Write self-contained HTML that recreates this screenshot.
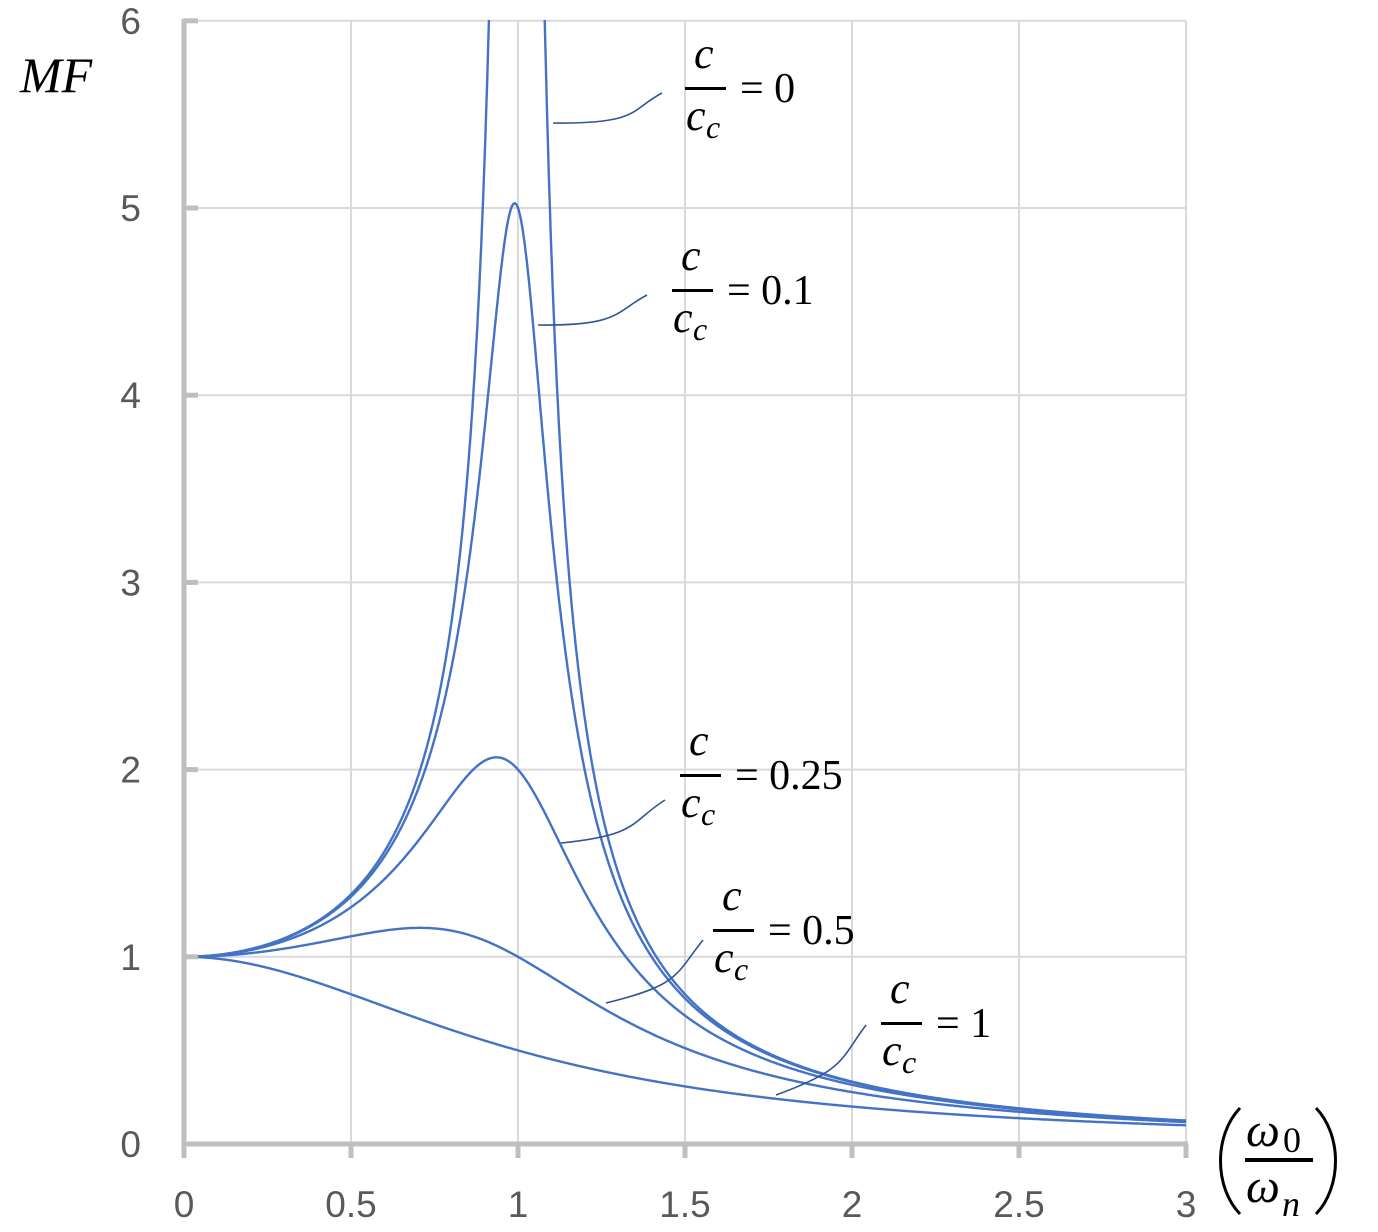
<!DOCTYPE html>
<html><head><meta charset="utf-8"><style>
html,body{margin:0;padding:0;background:#fff;}
svg{display:block}
.t{font-family:"Liberation Sans",sans-serif;fill:#595959}
.m{font-family:"Liberation Serif",serif;fill:#000}
.mi{font-family:"Liberation Serif",serif;font-style:italic;fill:#000}
</style></head><body>
<svg id="s" width="1378" height="1232" viewBox="0 0 1378 1232" xmlns="http://www.w3.org/2000/svg">
<defs><clipPath id="c"><rect x="184" y="20" width="1004" height="1124"/></clipPath></defs>
<g id="grid" stroke="#d9d9d9" stroke-width="2"></g>
<g id="curves" clip-path="url(#c)" fill="none" stroke="#4472c4" stroke-width="2.4"></g>
<g stroke="#bfbfbf" stroke-width="5" fill="none" id="axes"></g>
<g id="labels"></g>
<g fill="none" stroke="#2f5597" stroke-width="1.6">
<path d="M553,123 C640,124 630,110 662,93"/>
<path d="M538,325 C620,326 615,312 647,295"/>
<path d="M561,843 C640,835 630,822 665,800"/>
<path d="M606,1003 C680,985 675,975 703,940"/>
<path d="M776,1095 C845,1070 840,1060 866,1025"/>
</g>
<text class="mi" x="20" y="92" style="font-size:50px">MF</text>
<g id="fr"></g>
<g>
<path d="M1240,1108 C1214,1135 1214,1187 1240,1214" fill="none" stroke="#000" stroke-width="3"/>
<path d="M1316,1108 C1342,1135 1342,1187 1316,1214" fill="none" stroke="#000" stroke-width="3"/>
<text class="mi" x="1246" y="1146" style="font-size:48px">ω</text><text class="m" x="1283" y="1152" style="font-size:36px">0</text>
<rect x="1245" y="1158" width="68" height="4" fill="#000"/>
<text class="mi" x="1246" y="1202" style="font-size:48px">ω</text><text class="mi" x="1282" y="1216" style="font-size:36px">n</text>
</g>
</svg>
<script>
var X=function(v){return 184+v*334;},Y=function(v){return 1144-v*187.2;};
var g=document.getElementById('grid'),a=document.getElementById('axes'),L=document.getElementById('labels'),ns="http://www.w3.org/2000/svg";
function el(p,t,at,txt){var e=document.createElementNS(ns,t);for(var k in at)e.setAttribute(k,at[k]);if(txt!=null)e.textContent=txt;p.appendChild(e);return e;}
for(var i=1;i<=6;i++){el(g,'line',{x1:184,x2:1186,y1:Y(i),y2:Y(i)});}
for(var i=1;i<=6;i++){el(g,'line',{x1:X(i/2),x2:X(i/2),y1:Y(6),y2:1144});}
el(a,'line',{x1:184,x2:184,y1:Y(6)-2,y2:1146});
el(a,'line',{x1:182,x2:1188,y1:1144,y2:1144});
for(var i=0;i<=6;i++){el(a,'line',{x1:184,x2:198,y1:Y(i),y2:Y(i)});
 el(L,'text',{class:'t',x:141,y:Y(i)+13,'text-anchor':'end',style:'font-size:37px'},String(i));}
for(var i=0;i<=6;i++){el(a,'line',{x1:X(i/2),x2:X(i/2),y1:1144,y2:1158});
 el(L,'text',{class:'t',x:X(i/2),y:1217,'text-anchor':'middle',style:'font-size:37px'},String(i/2));}
var cg=document.getElementById('curves');
[0,0.1,0.25,0.5,1].forEach(function(z){
 var segs=[];var cur='';
 for(var r=0;r<=3.0001;r+=0.002){var m=1/Math.sqrt(Math.pow(1-r*r,2)+Math.pow(2*z*r,2));
  if(z==0&&Math.abs(1-r)<0.02){if(cur){segs.push(cur);cur='';}continue;}
  if(m>10)m=10;
  cur+=(cur?'L':'M')+X(r).toFixed(1)+','+Y(m).toFixed(1);}
 segs.push(cur);el(cg,'path',{d:segs.join('')});});
var F=document.getElementById('fr');
[[685,88,'= 0'],[672,290,'= 0.1'],[680,775,'= 0.25'],[713,930,'= 0.5'],[881,1023,'= 1']].forEach(function(q){
 var x=q[0],y=q[1];
 el(F,'text',{class:'mi',x:x+9,y:y-20,style:'font-size:44px'},'c');
 el(F,'rect',{x:x,y:y-1,width:41,height:3,fill:'#000'});
 el(F,'text',{class:'mi',x:x+1,y:y+42,style:'font-size:44px'},'c');
 el(F,'text',{class:'mi',x:x+21,y:y+50,style:'font-size:32px'},'c');
 el(F,'text',{class:'m',x:x+55,y:y+14,style:'font-size:42px'},q[2]);});
</script>
</body></html>
